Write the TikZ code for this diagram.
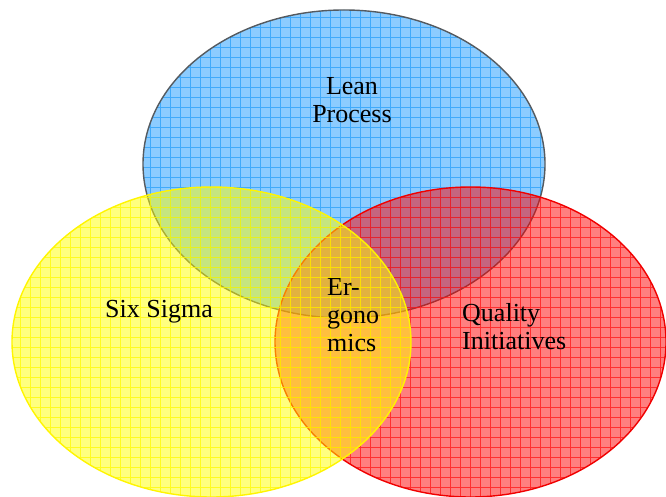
\documentclass[tikz,border=0pt]{standalone}
\usepackage{fontspec}
\setmainfont{Liberation Serif}
\usetikzlibrary{positioning}

\definecolor{leanfill}{RGB}{25,153,255}
\definecolor{leangrid}{RGB}{40,160,250}
\definecolor{leanline}{RGB}{85,90,95}
\definecolor{sixfill}{RGB}{255,255,0}
\definecolor{sixgrid}{RGB}{255,250,0}
\definecolor{sixline}{RGB}{255,245,0}
\definecolor{qualfill}{RGB}{255,0,0}
\definecolor{qualgrid}{RGB}{255,20,20}
\definecolor{qualline}{RGB}{240,0,0}

\begin{document}
\begin{tikzpicture}[
			x=1pt, y=1pt,
			setfill/.style={fill opacity=0.5},
			setgrid/.style={line width=0.8pt, opacity=0.75},
			setline/.style={line width=1.4pt},
			setlabel/.style={font=\fontsize{26}{28}\selectfont, inner sep=0pt}
			]
			\useasboundingbox (0,0) rectangle (666,497);
			
			% Centres of the sets
			\coordinate (lean) at (344,333);
			\coordinate (six) at (211.5,155);
			\coordinate (quality) at (470.5,155);
			
			% Lean Process
			\fill[leanfill, setfill] (lean) ellipse [x radius=201pt, y radius=154pt];
			\begin{scope}
				\clip (lean) ellipse [x radius=201pt, y radius=154pt];
				\draw[leangrid, setgrid] (140,175) grid [step=10pt] (550,490);
			\end{scope}
			\draw[leanline, setline] (lean) ellipse [x radius=201pt, y radius=154pt];
			
			% Quality Initiatives
			\fill[qualfill, setfill] (quality) ellipse [x radius=195.5pt, y radius=155pt];
			\begin{scope}
				\clip (quality) ellipse [x radius=195.5pt, y radius=155pt];
				\draw[qualgrid, setgrid] (270,0) grid [step=10pt] (670,315);
			\end{scope}
			\draw[qualline, setline] (quality) ellipse [x radius=195.5pt, y radius=155pt];
			
			% Six Sigma
			\fill[sixfill, setfill] (six) ellipse [x radius=199.5pt, y radius=155pt];
			\begin{scope}
				\clip (six) ellipse [x radius=199.5pt, y radius=155pt];
				\draw[sixgrid, setgrid] (10,0) grid [step=10pt] (415,315);
			\end{scope}
			\draw[sixline, setline] (six) ellipse [x radius=199.5pt, y radius=155pt];
			
			% Labels
			\node[setlabel, align=center, anchor=base] (leanlabel) at (352,374) {Lean\\Process};
			\node[setlabel, anchor=base] (sixlabel) at (159,179) {Six Sigma};
			\node[setlabel, align=left, anchor=base west] (quallabel) at (462,147) {Quality\\Initiatives};
			\node[setlabel, align=left, anchor=base west] (ergolabel) at (327,145) {Er-\\gono\\mics};
			
		\end{tikzpicture}
\end{document}
